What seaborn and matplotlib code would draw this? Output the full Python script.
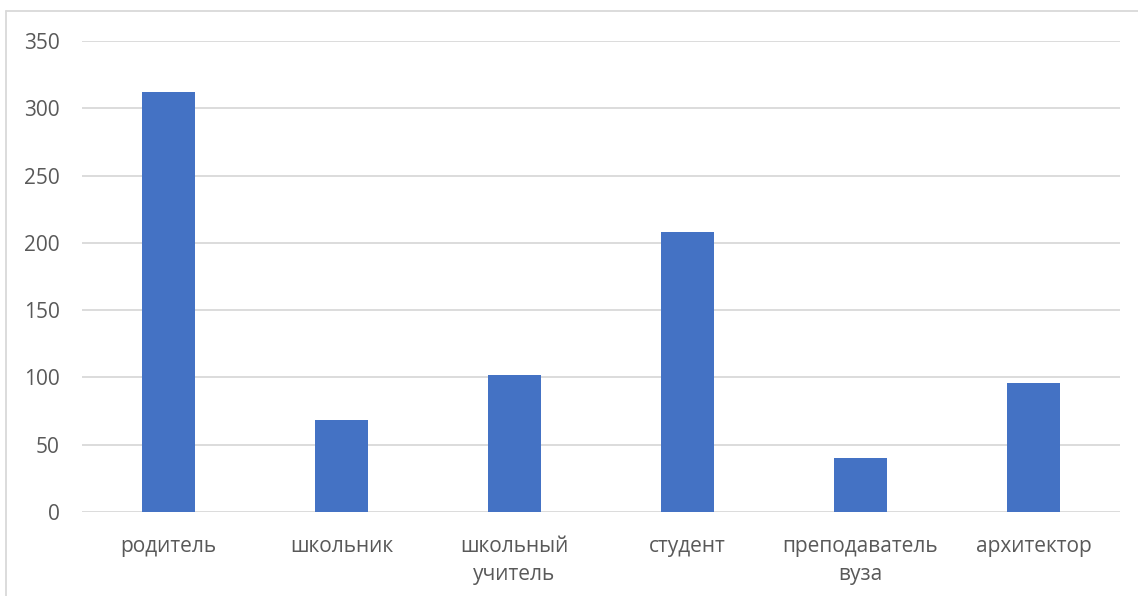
import matplotlib
matplotlib.use("Agg")
import matplotlib.pyplot as plt
from matplotlib.lines import Line2D
import seaborn as sns
import pandas as pd

categories = ["родитель", "школьник", "школьный\nучитель", "студент", "преподаватель\nвуза", "архитектор"]
values = [312, 68, 102, 208, 40, 96]
y_ticks = [0, 50, 100, 150, 200, 250, 300, 350]

df = pd.DataFrame({"category": categories, "value": values})

sns.set_theme(style="white")
plt.rcParams["font.family"] = ["Open Sans", "DejaVu Sans"]

W, H = 1138, 596
fig = plt.figure(figsize=(W / 100, H / 100), dpi=100)
ax = fig.add_axes([82 / W, 1 - 512 / H, (1120 - 82) / W, (512 - 41) / H])

sns.barplot(data=df, x="category", y="value", color="#4472C4", saturation=1,
            width=0.312, linewidth=0, ax=ax, zorder=3)

ax.set_ylim(0, 350)
ax.set_xlim(-0.5, len(categories) - 0.5)
ax.set_yticks(y_ticks)
ax.yaxis.grid(True, color="#d9d9d9", linewidth=1.3, zorder=0)
ax.set_axisbelow(True)
for s in ["top", "right", "left", "bottom"]:
    ax.spines[s].set_visible(False)
ax.tick_params(axis="both", length=0, labelsize=15, colors="#595959")
ax.tick_params(axis="y", pad=16)
ax.tick_params(axis="x", pad=17)
for lbl in ax.get_xticklabels():
    lbl.set_linespacing(1.45)
ax.set_xlabel("")
ax.set_ylabel("")

# chart-area border
fig.add_artist(Line2D([6 / W, 6 / W], [0, 1 - 11 / H], transform=fig.transFigure,
                      color="#d9d9d9", linewidth=1.3))
fig.add_artist(Line2D([6 / W, 1], [1 - 11 / H, 1 - 11 / H], transform=fig.transFigure,
                      color="#d9d9d9", linewidth=1.3))

fig.savefig("out.png", dpi=100)
